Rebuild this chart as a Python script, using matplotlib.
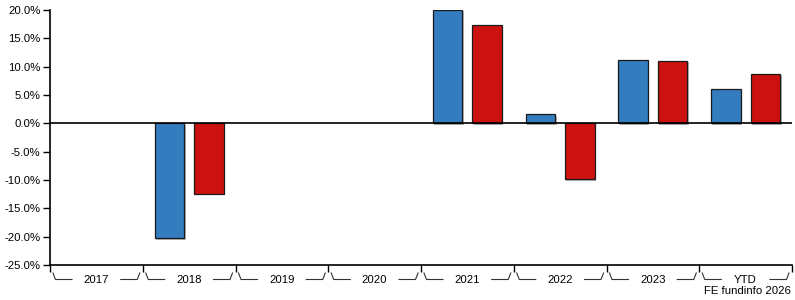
import matplotlib
matplotlib.use("Agg")
import matplotlib.pyplot as plt
import matplotlib.patheffects as pe
from matplotlib.transforms import blended_transform_factory
import numpy as np

plt.rcParams['font.family'] = ['Liberation Sans', 'DejaVu Sans']

categories = ["2017", "2018", "2019", "2020", "2021", "2022", "2023", "YTD"]
fund = [np.nan, -20.3, np.nan, np.nan, 20.0, 1.6, 11.2, 6.1]
sector = [np.nan, -12.4, np.nan, np.nan, 17.4, -9.9, 11.0, 8.7]
yticks = [20, 15, 10, 5, 0, -5, -10, -15, -20, -25]

W, H = 795, 300
fig = plt.figure(figsize=(W / 100, H / 100), dpi=100)
ax = fig.add_axes([50 / W, 1 - 265 / H, (792 - 50) / W, (265 - 10) / H])

x = np.arange(len(categories))
bw = 0.32
off = 0.213
shadow = [pe.SimplePatchShadow(offset=(1, -1), shadow_rgbFace='#888888', alpha=0.6), pe.Normal()]
ax.bar(x - off, fund, bw, color='#337dbf', edgecolor='#1a1a1a', linewidth=0.9,
       path_effects=shadow, zorder=3)
ax.bar(x + off, sector, bw, color='#cc1111', edgecolor='#1a1a1a', linewidth=0.9,
       path_effects=shadow, zorder=3)

ax.axhline(0, color='black', linewidth=1.2, zorder=4)
ax.set_xlim(-0.5, len(categories) - 0.5)
ax.set_ylim(-25, 20)
ax.set_yticks(yticks)
ax.set_yticklabels([f"{v:.1f}%" for v in yticks], fontsize=8.2)
ax.set_xticks(np.arange(len(categories) + 1) - 0.5)
ax.set_xticklabels([])
ax.tick_params(axis='y', length=5, width=1, pad=2, direction='out')
ax.tick_params(axis='x', length=5, width=1, direction='out')
for s in ['top', 'right']:
    ax.spines[s].set_visible(False)
for s in ['left', 'bottom']:
    ax.spines[s].set_linewidth(1.2)

# category labels with bracket decoration
trans = blended_transform_factory(ax.transData, fig.transFigure)
cw = (792 - 50) / len(categories)  # px per category
def px(d):
    return d / cw
def fy(y):
    return 1 - y / H
for i, c in enumerate(categories):
    L = i - 0.5
    R = i + 0.5
    ax.text(i, fy(280), c, transform=trans, ha='center', va='center', fontsize=8.2)
    ax.plot([L + px(3), L + px(5.5), L + px(22)], [fy(273), fy(279.5), fy(279.5)],
            transform=trans, color='#333333', lw=0.8, clip_on=False)
    ax.plot([R - px(22), R - px(5.5), R - px(3)], [fy(279.5), fy(279.5), fy(273)],
            transform=trans, color='#333333', lw=0.8, clip_on=False)

fig.text(791 / W, 1 - 291 / H, "FE fundinfo 2026", ha='right', va='center', fontsize=8.2)

fig.savefig("out.png", dpi=100)
